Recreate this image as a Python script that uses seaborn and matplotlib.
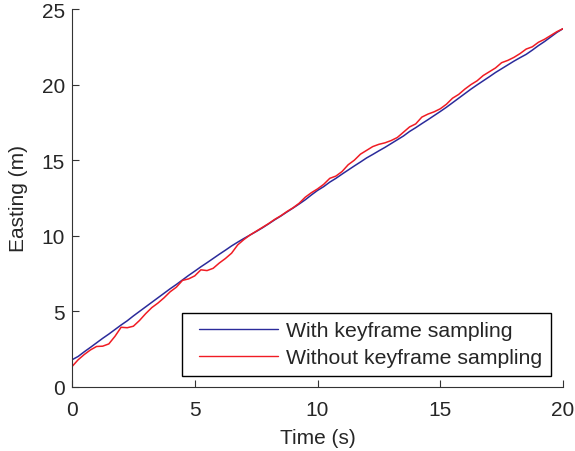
import numpy as np
import pandas as pd
import matplotlib
matplotlib.use("Agg")
import matplotlib.pyplot as plt
import seaborn as sns

time_s = [i * 0.25 for i in range(81)]

with_keyframe = [
    1.80, 2.02, 2.33, 2.62, 2.92, 3.22, 3.50, 3.80, 4.10, 4.38,
    4.70, 5.00, 5.30, 5.60, 5.90, 6.20, 6.50, 6.78, 7.08, 7.38,
    7.66, 7.95, 8.22, 8.50, 8.78, 9.05, 9.33, 9.58, 9.82, 10.05,
    10.28, 10.52, 10.78, 11.05, 11.30, 11.57, 11.83, 12.10, 12.38, 12.70,
    13.00, 13.25, 13.55, 13.80, 14.08, 14.35, 14.62, 14.88, 15.15, 15.38,
    15.62, 15.85, 16.10, 16.35, 16.60, 16.90, 17.15, 17.42, 17.68, 17.95,
    18.22, 18.50, 18.80, 19.10, 19.40, 19.70, 19.98, 20.25, 20.52, 20.80,
    21.05, 21.30, 21.55, 21.78, 22.00, 22.28, 22.58, 22.85, 23.15, 23.45,
    23.70,
]

without_keyframe = [
    1.35, 1.80, 2.15, 2.45, 2.68, 2.70, 2.85, 3.35, 3.95, 3.92,
    4.02, 4.40, 4.85, 5.25, 5.55, 5.90, 6.30, 6.60, 7.05, 7.15,
    7.35, 7.75, 7.70, 7.85, 8.20, 8.50, 8.85, 9.40, 9.75, 10.05,
    10.30, 10.55, 10.80, 11.08, 11.32, 11.60, 11.85, 12.15, 12.55, 12.85,
    13.10, 13.40, 13.80, 13.95, 14.25, 14.70, 15.00, 15.40, 15.65, 15.90,
    16.05, 16.15, 16.30, 16.50, 16.85, 17.20, 17.40, 17.85, 18.05, 18.20,
    18.40, 18.70, 19.10, 19.35, 19.70, 20.00, 20.25, 20.60, 20.85, 21.10,
    21.45, 21.60, 21.80, 22.05, 22.35, 22.50, 22.80, 23.00, 23.25, 23.50,
    23.70,
]

series_names = ["With keyframe sampling", "Without keyframe sampling"]
x_ticks = [0, 5, 10, 15, 20]
y_ticks = [0, 5, 10, 15, 20, 25]

df = pd.DataFrame({
    "Time": time_s * 2,
    "Easting": with_keyframe + without_keyframe,
    "Method": [series_names[0]] * len(time_s) + [series_names[1]] * len(time_s),
})

sns.set_style("white")
plt.rcParams["font.family"] = ["Liberation Sans", "DejaVu Sans"]
plt.rcParams["xtick.direction"] = "in"
plt.rcParams["ytick.direction"] = "in"

fig = plt.figure(figsize=(5.75, 4.52), dpi=100)
ax = fig.add_axes([72 / 575, 1 - 388 / 452, 491 / 575, 378 / 452])

sns.lineplot(data=df, x="Time", y="Easting", hue="Method",
             palette=["#2b2b9b", "#f01c24"], linewidth=1.1, ax=ax)

ax.set_xlim(0, 20)
ax.set_ylim(0, 25)
ax.set_xticks(x_ticks)
ax.set_yticks(y_ticks)
ax.tick_params(axis="x", labelsize=15, length=5, width=0.8, color="#333333",
               bottom=True, pad=9.5)
ax.tick_params(axis="y", labelsize=15, length=5, width=0.8, color="#333333",
               left=True, pad=5)
ax.set_xlabel("Time (s)", fontsize=15, labelpad=6)
ax.set_ylabel("Easting (m)", fontsize=15, labelpad=10)
for s in ["top", "right"]:
    ax.spines[s].set_visible(False)
for s in ["left", "bottom"]:
    ax.spines[s].set_color("#333333")
    ax.spines[s].set_linewidth(0.8)

leg = ax.legend(loc="lower right", bbox_to_anchor=((551 - 72) / 491, 11 / 378),
                borderaxespad=0, fontsize=15.3, handlelength=4.1,
                frameon=True, fancybox=False, framealpha=1,
                edgecolor="black", labelspacing=0.4, borderpad=0.4,
                handletextpad=0.4)
leg.get_frame().set_linewidth(1.0)
for line in leg.get_lines():
    line.set_linewidth(1.0)
    xd = np.asarray(line.get_xdata(), dtype=float)
    if len(xd) >= 2:
        line.set_xdata(np.linspace(xd[0] + 5.8, xd[-1], len(xd)))

fig.savefig("out.png", dpi=100)
